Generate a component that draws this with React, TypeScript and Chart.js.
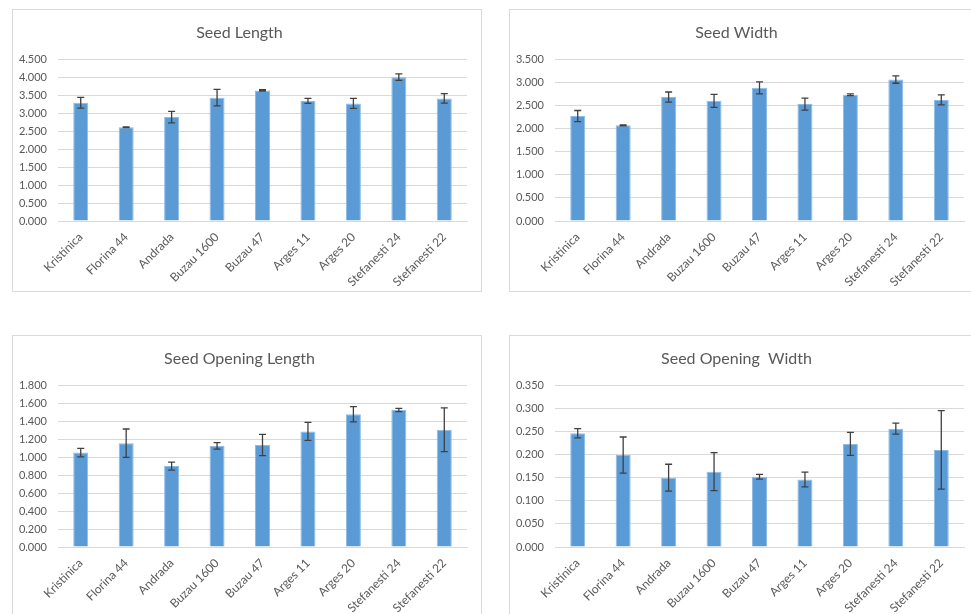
import React, { useEffect, useRef } from "react";
import { Chart, registerables } from "chart.js";

Chart.register(...registerables);

const categories = [
  "Kristinica",
  "Florina 44",
  "Andrada",
  "Buzau 1600",
  "Buzau 47",
  "Arges 11",
  "Arges 20",
  "Stefanesti 24",
  "Stefanesti 22",
];

const seedLength = [3.29, 2.61, 2.89, 3.43, 3.63, 3.34, 3.27, 4.0, 3.41];
const seedLengthErr = [0.15, 0.01, 0.16, 0.23, 0.02, 0.07, 0.14, 0.09, 0.13];

const seedWidth = [2.27, 2.07, 2.68, 2.6, 2.88, 2.53, 2.73, 3.06, 2.62];
const seedWidthErr = [0.12, 0.01, 0.11, 0.14, 0.13, 0.13, 0.02, 0.08, 0.11];

const openingLength = [1.05, 1.155, 0.9, 1.125, 1.135, 1.286, 1.477, 1.525, 1.305];
const openingLengthErr = [0.048, 0.158, 0.044, 0.036, 0.118, 0.1, 0.085, 0.018, 0.243];

const openingWidth = [0.246, 0.199, 0.15, 0.163, 0.152, 0.146, 0.223, 0.256, 0.21];
const openingWidthErr = [0.01, 0.039, 0.029, 0.041, 0.005, 0.016, 0.025, 0.012, 0.085];

const titles = ["Seed Length", "Seed Width", "Seed Opening Length", "Seed Opening  Width"];
const yMax = [4.5, 3.5, 1.8, 0.35];
const yStep = [0.5, 0.5, 0.2, 0.05];

const errorBarPlugin = {
  id: "errorBars",
  afterDatasetsDraw(chart: any) {
    const errs: number[] = chart.options.plugins.errorBars?.errors || [];
    const meta = chart.getDatasetMeta(0);
    const ys = chart.scales.y;
    const vals = chart.data.datasets[0].data as number[];
    const ctx = chart.ctx;
    ctx.save();
    ctx.strokeStyle = "#404040";
    ctx.lineWidth = 1.3;
    meta.data.forEach((bar: any, i: number) => {
      const x = bar.x;
      const top = ys.getPixelForValue(vals[i] + errs[i]);
      const bot = ys.getPixelForValue(vals[i] - errs[i]);
      ctx.beginPath();
      ctx.moveTo(x, top);
      ctx.lineTo(x, bot);
      ctx.moveTo(x - 3.5, top);
      ctx.lineTo(x + 3.5, top);
      ctx.moveTo(x - 3.5, bot);
      ctx.lineTo(x + 3.5, bot);
      ctx.stroke();
    });
    ctx.restore();
  },
};

function Panel(props: {
  idx: number;
  values: number[];
  errors: number[];
  left: number;
  top: number;
}) {
  const ref = useRef<HTMLCanvasElement | null>(null);
  const { idx, values, errors } = props;
  useEffect(() => {
    if (!ref.current) return;
    const chart = new Chart(ref.current, {
      type: "bar",
      data: {
        labels: categories,
        datasets: [
          {
            data: values,
            backgroundColor: "#5B9BD5",
            borderColor: "#8DBBE6",
            borderWidth: 1,
            barPercentage: 0.33,
            categoryPercentage: 1,
          },
        ],
      },
      options: {
        responsive: false,
        animation: false,
        devicePixelRatio: 1,
        layout: { padding: { left: 0, right: 15, top: 0, bottom: 0 } },
        plugins: {
          legend: { display: false },
          tooltip: { enabled: false },
          title: {
            display: true,
            text: titles[idx],
            color: "#595959",
            font: { family: "Lato", size: 16, weight: "normal" },
            padding: { top: 14, bottom: 17 },
          },
          errorBars: { errors },
        } as any,
        scales: {
          x: {
            grid: { display: false, drawTicks: false },
            border: { color: "#d9d9d9" },
            ticks: {
              color: "#595959",
              font: { family: "Lato", size: 12 },
              minRotation: 45,
              maxRotation: 45,
              padding: 9,
              autoSkip: false,
            },
            afterFit: (s: any) => {
              s.height = 71;
            },
          },
          y: {
            min: 0,
            max: yMax[idx],
            grid: { color: "#d9d9d9", drawTicks: false },
            border: { display: false },
            ticks: {
              stepSize: yStep[idx],
              color: "#595959",
              font: { family: "Lato", size: 11 },
              padding: 11,
              callback: (v: any) => Number(v).toFixed(3),
            },
            afterFit: (s: any) => {
              s.width = 46;
            },
          },
        },
      },
      plugins: [errorBarPlugin],
    });
    return () => chart.destroy();
  }, []);
  return (
    <div
      style={{
        position: "absolute",
        left: props.left,
        top: props.top,
        width: 470,
        height: 283,
        border: "1px solid #d9d9d9",
        boxSizing: "border-box",
        background: "#fff",
      }}
    >
      <canvas ref={ref} width={470} height={283} style={{ position: "absolute", left: -1, top: -1 }} />
    </div>
  );
}

export default function App() {
  return (
    <div
      style={{
        position: "fixed",
        left: 0,
        top: 0,
        width: 971,
        height: 614,
        overflow: "hidden",
        background: "#fff",
      }}
    >
      <Panel idx={0} values={seedLength} errors={seedLengthErr} left={12} top={9} />
      <Panel idx={1} values={seedWidth} errors={seedWidthErr} left={509} top={9} />
      <Panel idx={2} values={openingLength} errors={openingLengthErr} left={12} top={335} />
      <Panel idx={3} values={openingWidth} errors={openingWidthErr} left={509} top={335} />
    </div>
  );
}
